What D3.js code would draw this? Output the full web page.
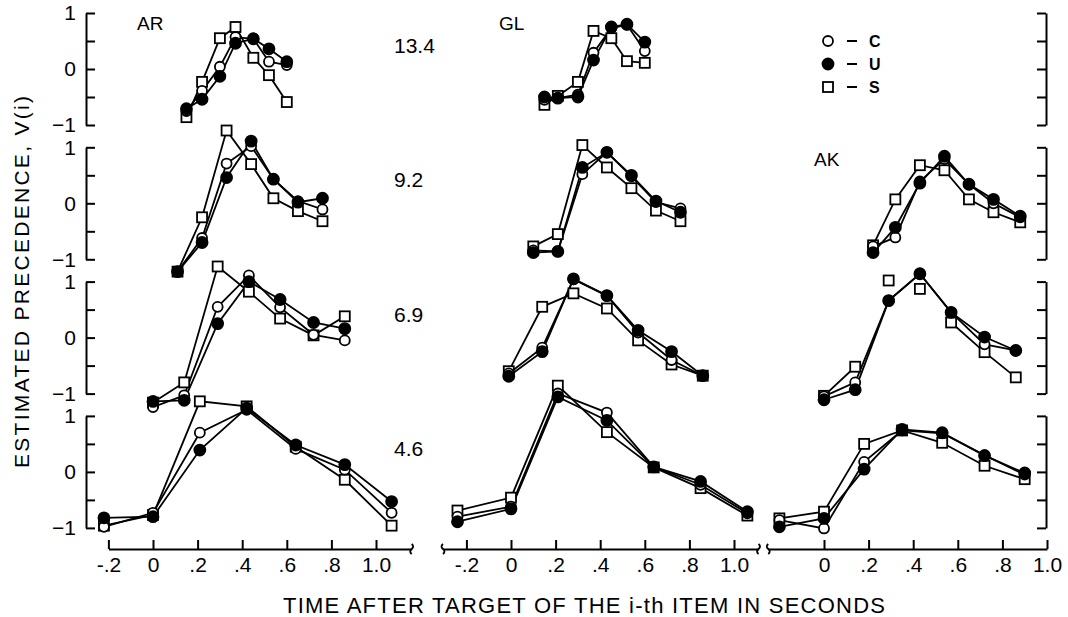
<!DOCTYPE html>
<html>
<head>
<meta charset="utf-8">
<script src="https://cdn.jsdelivr.net/npm/d3@7"></script>
<style>
  body { margin: 0; background: #fff; }
  svg { display: block; font-family: "Liberation Sans", Arial, Helvetica, sans-serif; }
  .axis path, .axis line { stroke: #000; stroke-width: 2; }
  .axis text { font-size: 21px; fill: #000; font-family: "Liberation Sans", Arial, sans-serif; }
</style>
</head>
<body>
<script>
// subjects (columns) and presentation rates (rows)
var subjects = ["AR", "GL", "AK"];
var rates = ["13.4", "9.2", "6.9", "4.6"];

var xTickValues = [-0.2, 0, 0.2, 0.4, 0.6, 0.8, 1.0];
var xTickLabels = ["-.2", "0", ".2", ".4", ".6", ".8", "1.0"];
var yTickValues = [-1, -0.5, 0, 0.5, 1];
var yTickLabels = ["\u22121", "", "0", "", "1"];

// legend: c = open circle, u = filled circle, s = open square
var seriesKeys = ["s", "c", "u"];
var legendKeys = ["c", "u", "s"];
var legendLabels = ["C", "U", "S"];

// time after target (s), one array per rate row
var arTime = [
  [0.15, 0.22, 0.30, 0.37, 0.45, 0.52, 0.60],
  [0.11, 0.22, 0.33, 0.44, 0.54, 0.65, 0.76],
  [0.00, 0.14, 0.29, 0.43, 0.57, 0.72, 0.86],
  [-0.22, 0.00, 0.21, 0.42, 0.64, 0.86, 1.07]
];
var arC = [
  [-0.75, -0.39, 0.04, 0.57, 0.54, 0.13, 0.07],
  [-1.22, -0.62, 0.71, 1.02, 0.43, 0.04, -0.11],
  [-1.24, -1.03, 0.55, 1.11, 0.54, 0.05, -0.05],
  [-0.98, -0.73, 0.70, 1.11, 0.41, 0.04, -0.73]
];
var arU = [
  [-0.71, -0.54, -0.13, 0.46, 0.54, 0.36, 0.13],
  [-1.22, -0.70, 0.46, 1.11, 0.43, 0.02, 0.09],
  [-1.14, -1.12, 0.25, 1.00, 0.68, 0.27, 0.16],
  [-0.82, -0.80, 0.39, 1.14, 0.48, 0.13, -0.53]
];
var arS = [
  [-0.86, -0.23, 0.55, 0.75, 0.20, -0.11, -0.59],
  [-1.22, -0.25, 1.30, 0.70, 0.09, -0.14, -0.32],
  [-1.16, -0.80, 1.27, 0.82, 0.34, 0.04, 0.38],
  [-0.96, -0.77, 1.26, 1.17, 0.45, -0.14, -0.96]
];

var glTime = [
  [0.15, 0.21, 0.30, 0.37, 0.45, 0.52, 0.60],
  [0.10, 0.21, 0.32, 0.43, 0.54, 0.65, 0.76],
  [-0.01, 0.14, 0.28, 0.43, 0.57, 0.72, 0.86],
  [-0.24, 0.00, 0.21, 0.43, 0.64, 0.85, 1.06]
];
var glC = [
  [-0.55, -0.52, -0.46, 0.29, 0.73, 0.79, 0.32],
  [-0.84, -0.86, 0.52, 0.91, 0.48, 0.02, -0.09],
  [-0.64, -0.18, 1.04, 0.75, 0.09, -0.40, -0.68],
  [-0.80, -0.62, 1.40, 1.06, 0.09, -0.23, -0.74]
];
var glU = [
  [-0.50, -0.52, -0.50, 0.16, 0.75, 0.80, 0.48],
  [-0.88, -0.86, 0.64, 0.91, 0.50, 0.04, -0.16],
  [-0.69, -0.25, 1.05, 0.75, 0.13, -0.25, -0.68],
  [-0.89, -0.66, 1.34, 0.92, 0.09, -0.17, -0.71]
];
var glS = [
  [-0.64, -0.48, -0.23, 0.68, 0.55, 0.14, 0.11],
  [-0.77, -0.55, 1.04, 0.64, 0.27, -0.13, -0.32],
  [-0.60, 0.55, 0.79, 0.52, -0.05, -0.48, -0.68],
  [-0.69, -0.46, 1.54, 0.71, 0.08, -0.29, -0.78]
];

// AK has no 13.4 row
var akTime = [
  null,
  [0.22, 0.32, 0.43, 0.54, 0.65, 0.76, 0.88],
  [0.00, 0.14, 0.29, 0.43, 0.57, 0.72, 0.86],
  [-0.20, 0.00, 0.18, 0.35, 0.53, 0.72, 0.90]
];
var akC = [
  null,
  [-0.77, -0.61, 0.39, 0.79, 0.34, 0.00, -0.25],
  [-1.05, -0.80, 0.66, 1.14, 0.45, -0.12, -0.23],
  [-0.86, -1.01, 0.18, 0.74, 0.69, 0.30, -0.05]
];
var akU = [
  null,
  [-0.88, -0.43, 0.36, 0.84, 0.34, 0.07, -0.23],
  [-1.11, -0.93, 0.66, 1.14, 0.45, 0.01, -0.23],
  [-0.98, -0.83, 0.05, 0.76, 0.70, 0.29, -0.02]
];
var akS = [
  null,
  [-0.75, 0.07, 0.68, 0.59, 0.07, -0.16, -0.34],
  [-1.04, -0.52, 1.02, 0.87, 0.27, -0.26, -0.71],
  [-0.83, -0.71, 0.50, 0.74, 0.52, 0.11, -0.13]
];
// in AK 6.9 the two peak squares are not joined by the s line
var akSJoined = [null, null, [1, 1, 0, 0, 1, 1, 1], null];

var panelData = [
  { time: arTime, c: arC, u: arU, s: arS, sJoined: [] },
  { time: glTime, c: glC, u: glU, s: glS, sJoined: [] },
  { time: akTime, c: akC, u: akU, s: akS, sJoined: akSJoined }
];

// layout
var svgWidth = 1068, svgHeight = 617;
var rowTop = 13, rowStep = 134.3, rowHeight = 112;
var panelZero = [153, 511, 824], unit = 223;
var leftAxisX = 86, rightAxisX = 1046, xAxisY = 549;
var xAxisExtent = [[-0.2, 1.16], [-0.305, 1.11], [-0.25, 1.0]];
var xAxisBreaks = [[false, true], [true, true], [true, false]];

var svg = d3.select("body").append("svg")
  .attr("width", svgWidth)
  .attr("height", svgHeight);

var xScales = panelZero.map(function (x0) {
  return d3.scaleLinear().domain([0, 1]).range([x0, x0 + unit]);
});
var yScales = rates.map(function (r, i) {
  var top = rowTop + i * rowStep;
  return d3.scaleLinear().domain([-1, 1]).range([top + rowHeight, top]);
});

// y axes, left and right, one bracket per row
yScales.forEach(function (y) {
  svg.append("g")
    .attr("class", "axis")
    .attr("transform", "translate(" + leftAxisX + ",0)")
    .call(d3.axisLeft(y).tickValues(yTickValues).tickSizeInner(-9).tickSizeOuter(0).tickPadding(10)
      .tickFormat(function (d, i) { return yTickLabels[i]; }))
    .selectAll("text").attr("font-size", 22);

  svg.append("g")
    .attr("class", "axis")
    .attr("transform", "translate(" + rightAxisX + ",0)")
    .call(d3.axisRight(y).tickValues(yTickValues).tickSizeInner(-9).tickSizeOuter(0).tickFormat(""));
});

// x axes, one per column, with broken ends
xScales.forEach(function (x, p) {
  var ext = xAxisExtent[p];
  var axisScale = x.copy().domain(ext).range(ext.map(x));
  var ticks = p === 2 ? xTickValues.slice(1) : xTickValues;
  svg.append("g")
    .attr("class", "axis")
    .attr("transform", "translate(0," + xAxisY + ")")
    .call(d3.axisBottom(axisScale).tickValues(ticks).tickSizeInner(-9).tickSizeOuter(0).tickPadding(8)
      .tickFormat(function (d) { return xTickLabels[xTickValues.indexOf(d)]; }));

  ext.forEach(function (v, e) {
    if (!xAxisBreaks[p][e]) return;
    var bx = x(v), dir = e === 0 ? -1 : 1;
    svg.append("path")
      .attr("d", "M" + bx + "," + (xAxisY - 5) + " q" + (3 * dir) + ",2.5 0,5 q" + (-3 * dir) + ",2.5 0,5")
      .attr("fill", "none")
      .attr("stroke", "#000")
      .attr("stroke-width", 1.8);
  });
});

// series
var line = d3.line();
panelData.forEach(function (pd, p) {
  var x = xScales[p];
  rates.forEach(function (rate, r) {
    var times = pd.time[r];
    if (!times) return;
    var y = yScales[r];
    var g = svg.append("g");

    seriesKeys.forEach(function (key) {
      var vals = pd[key][r];
      var joined = key === "s" && pd.sJoined[r] ? pd.sJoined[r] : null;
      g.append("path")
        .attr("d", line
          .x(function (i) { return x(times[i]); })
          .y(function (i) { return y(vals[i]); })
          .defined(function (i) { return joined ? joined[i] === 1 : true; })(d3.range(times.length)))
        .attr("fill", "none")
        .attr("stroke", "#000")
        .attr("stroke-width", 1.8);
    });

    seriesKeys.forEach(function (key) {
      var vals = pd[key][r];
      var pts = d3.range(times.length).map(function (i) { return [x(times[i]), y(vals[i])]; });
      if (key === "s") {
        g.selectAll(null).data(pts).enter().append("rect")
          .attr("x", function (d) { return d[0] - 5; })
          .attr("y", function (d) { return d[1] - 5; })
          .attr("width", 10).attr("height", 10)
          .attr("fill", "#fff").attr("stroke", "#000").attr("stroke-width", 1.8);
      } else {
        g.selectAll(null).data(pts).enter().append("circle")
          .attr("cx", function (d) { return d[0]; })
          .attr("cy", function (d) { return d[1]; })
          .attr("r", key === "u" ? 5.5 : 5)
          .attr("fill", key === "u" ? "#000" : "#fff")
          .attr("stroke", "#000").attr("stroke-width", 1.8);
      }
    });
  });
});

// rate labels
svg.selectAll(".rate").data(rates).enter().append("text")
  .attr("x", 394)
  .attr("y", function (d, i) { return rowTop + i * rowStep + 40; })
  .attr("font-size", 21)
  .text(function (d) { return d; });

// subject labels
var subjectPos = [[137, 30], [499, 30], [814, 166]];
svg.selectAll(".subj").data(subjects).enter().append("text")
  .attr("x", function (d, i) { return subjectPos[i][0]; })
  .attr("y", function (d, i) { return subjectPos[i][1]; })
  .attr("font-size", 19)
  .text(function (d) { return d; });

// legend
var legend = svg.append("g").attr("transform", "translate(828,41)");
legendKeys.forEach(function (key, i) {
  var ly = i * 23;
  if (key === "s") {
    legend.append("rect").attr("x", -5).attr("y", ly - 5).attr("width", 10).attr("height", 10)
      .attr("fill", "#fff").attr("stroke", "#000").attr("stroke-width", 1.8);
  } else {
    legend.append("circle").attr("cx", 0).attr("cy", ly).attr("r", key === "u" ? 5.5 : 5)
      .attr("fill", key === "u" ? "#000" : "#fff").attr("stroke", "#000").attr("stroke-width", 1.8);
  }
  legend.append("line").attr("x1", 19).attr("x2", 29).attr("y1", ly).attr("y2", ly)
    .attr("stroke", "#000").attr("stroke-width", 2);
  legend.append("text").attr("x", 41).attr("y", ly).attr("dy", "0.36em")
    .attr("font-size", 16).attr("font-weight", "bold")
    .text(legendLabels[i]);
});

// axis titles
svg.append("text")
  .attr("transform", "translate(29,282) rotate(-90)")
  .attr("text-anchor", "middle")
  .attr("font-size", 21)
  .attr("textLength", 372)
  .attr("lengthAdjust", "spacing")
  .text("ESTIMATED PRECEDENCE, V(i)");

svg.append("text")
  .attr("x", 584)
  .attr("y", 613)
  .attr("text-anchor", "middle")
  .attr("font-size", 22)
  .attr("textLength", 602)
  .attr("lengthAdjust", "spacing")
  .text("TIME AFTER TARGET OF THE i-th ITEM IN SECONDS");
</script>
</body>
</html>
